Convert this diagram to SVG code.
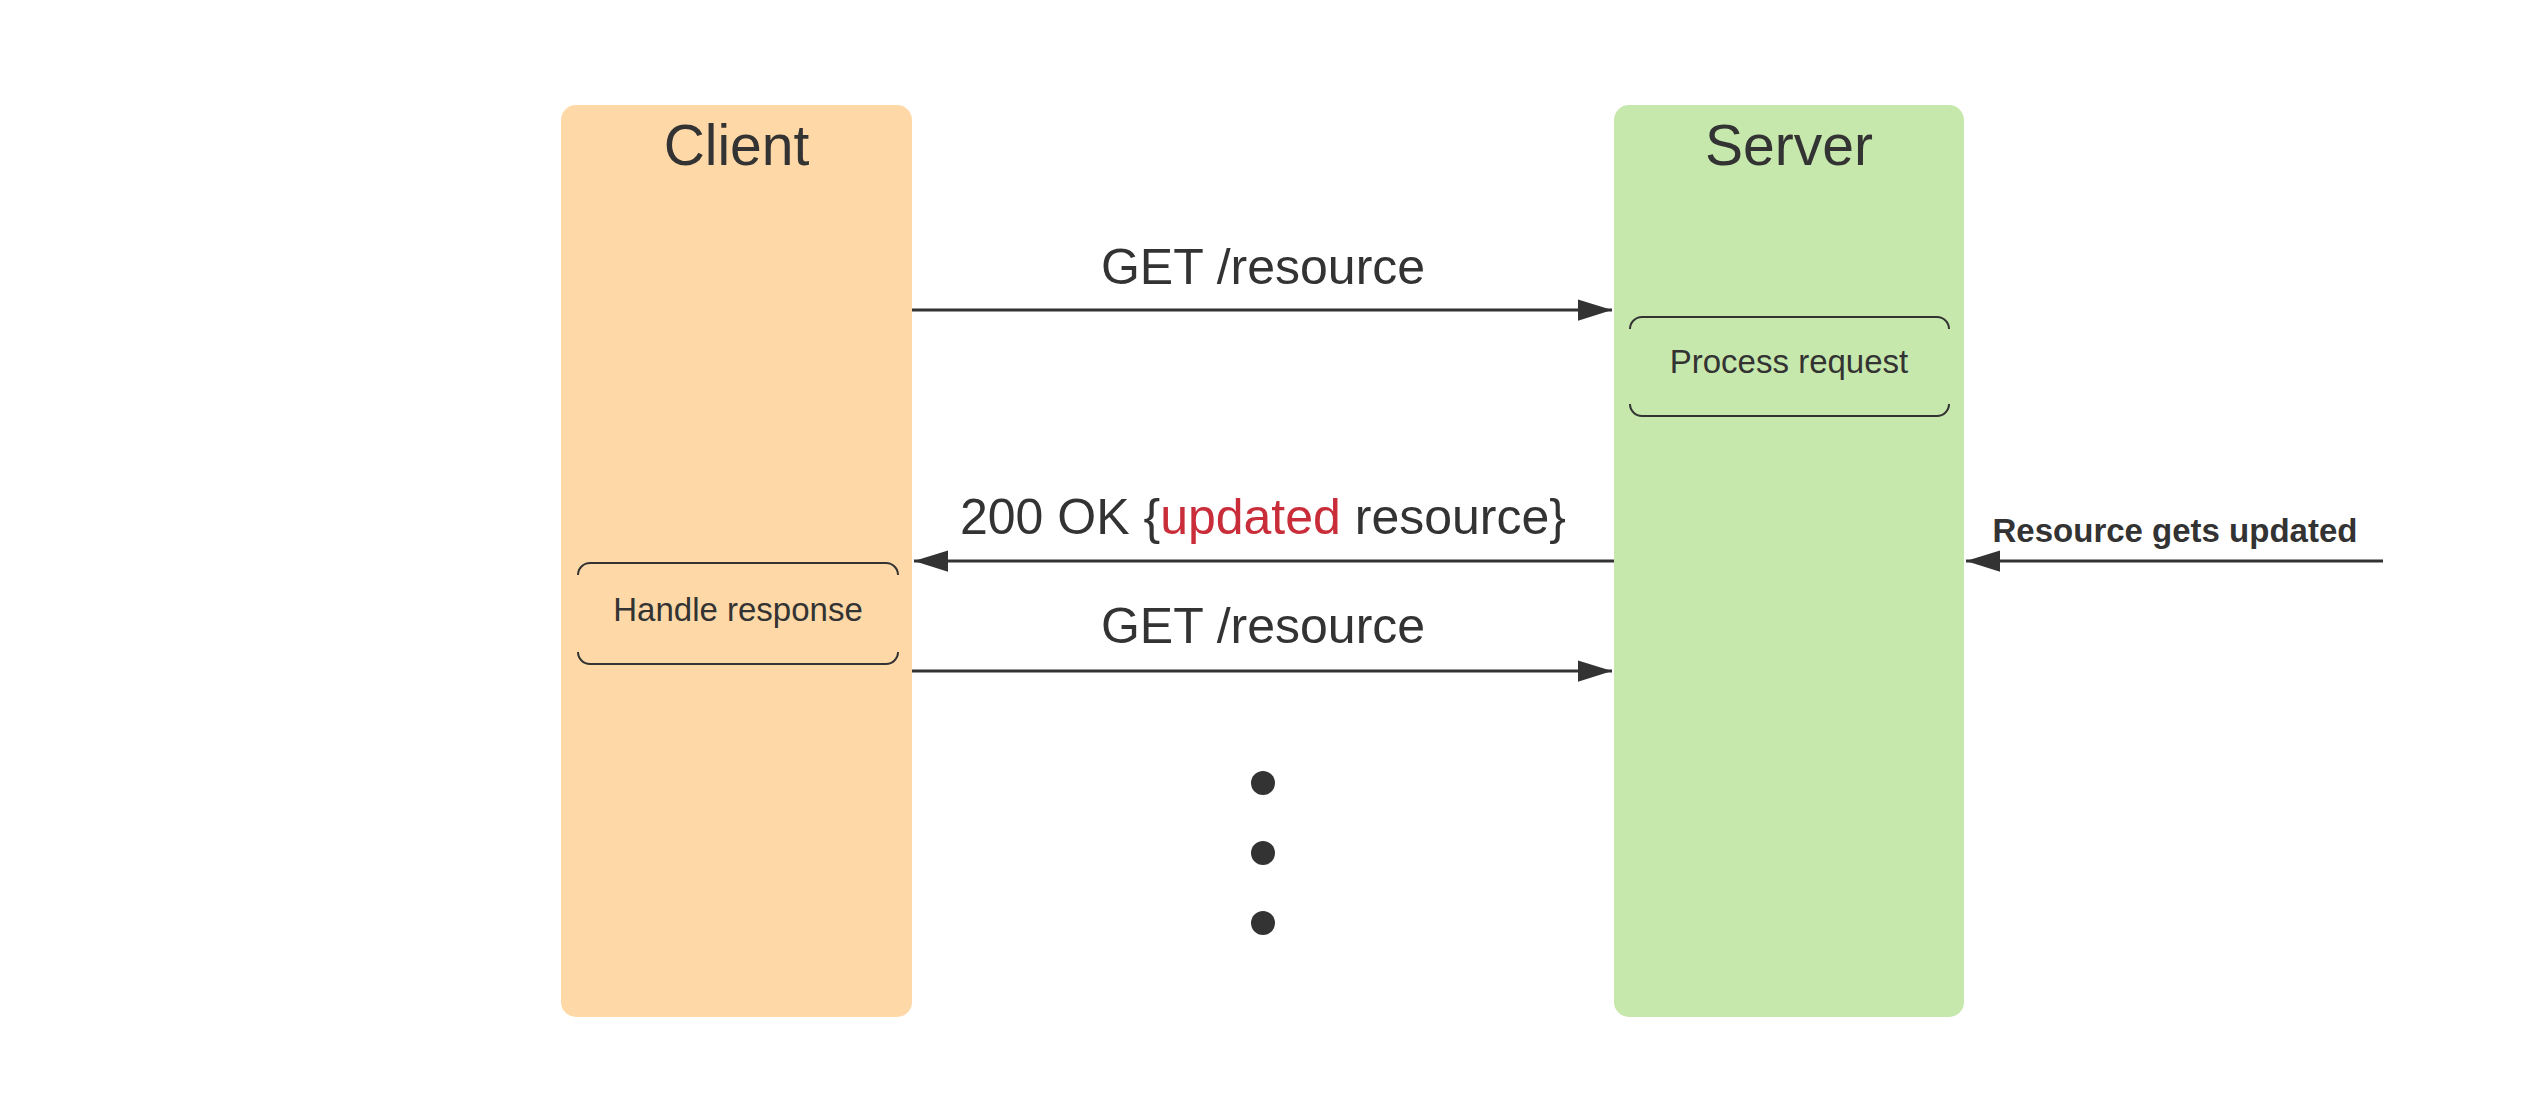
<svg xmlns="http://www.w3.org/2000/svg" width="2521" height="1117" viewBox="0 0 2521 1117">
<defs>
<style>
.title{font-family:"Liberation Sans",Arial,sans-serif;font-size:57px;fill:#333333;text-anchor:middle}
.msg{font-family:"Liberation Sans",Arial,sans-serif;font-size:50px;fill:#333333;text-anchor:middle}
.act{font-family:"Liberation Sans",Arial,sans-serif;font-size:33px;fill:#333333;text-anchor:middle}
.bold{font-family:"Liberation Sans",Arial,sans-serif;font-size:33px;font-weight:bold;fill:#333333;text-anchor:middle}
.red{fill:#C92D39}
.conn{stroke:#333333;stroke-width:3;fill:none}
.brk{stroke:#333333;stroke-width:2;fill:none}
.dot{fill:#333333}
</style>
<marker id="arrow" markerUnits="userSpaceOnUse" markerWidth="34" markerHeight="22" viewBox="0 0 32 20" refX="32" refY="10" orient="auto">
<path d="M0,0 L32,10 L0,20 Z" fill="#333333"/>
</marker>
</defs>
<rect width="2521" height="1117" fill="#ffffff"/>
<g id="client">
<rect x="561" y="105" width="351" height="912" rx="15" ry="15" fill="#FED9A7"/>
<text class="title" x="736.5" y="165">Client</text>
</g>
<g id="server">
<rect x="1614" y="105" width="350" height="912" rx="15" ry="15" fill="#C7E8AC"/>
<text class="title" x="1789" y="165">Server</text>
</g>
<g id="process-request">
<path class="brk" d="M1630,329 A12,12 0 0 1 1642,317 L1937,317 A12,12 0 0 1 1949,329"/>
<path class="brk" d="M1630,404 A12,12 0 0 0 1642,416 L1937,416 A12,12 0 0 0 1949,404"/>
<text class="act" x="1789" y="373">Process request</text>
</g>
<g id="handle-response">
<path class="brk" d="M578,575 A12,12 0 0 1 590,563 L886,563 A12,12 0 0 1 898,575"/>
<path class="brk" d="M578,652 A12,12 0 0 0 590,664 L886,664 A12,12 0 0 0 898,652"/>
<text class="act" x="738" y="621">Handle response</text>
</g>
<g id="connectors">
<line class="conn" x1="912" y1="310" x2="1612" y2="310" marker-end="url(#arrow)"/>
<text class="msg" x="1263" y="284">GET /resource</text>
<line class="conn" x1="1614" y1="561" x2="914" y2="561" marker-end="url(#arrow)"/>
<text class="msg" x="1263" y="534">200 OK {<tspan class="red">updated</tspan> resource}</text>
<line class="conn" x1="912" y1="671" x2="1612" y2="671" marker-end="url(#arrow)"/>
<text class="msg" x="1263" y="643">GET /resource</text>
<line class="conn" x1="2383" y1="561" x2="1966" y2="561" marker-end="url(#arrow)"/>
<text class="bold" x="2175" y="542">Resource gets updated</text>
</g>
<g id="ellipsis">
<circle class="dot" cx="1263" cy="783" r="12"/>
<circle class="dot" cx="1263" cy="853" r="12"/>
<circle class="dot" cx="1263" cy="923" r="12"/>
</g>
</svg>
